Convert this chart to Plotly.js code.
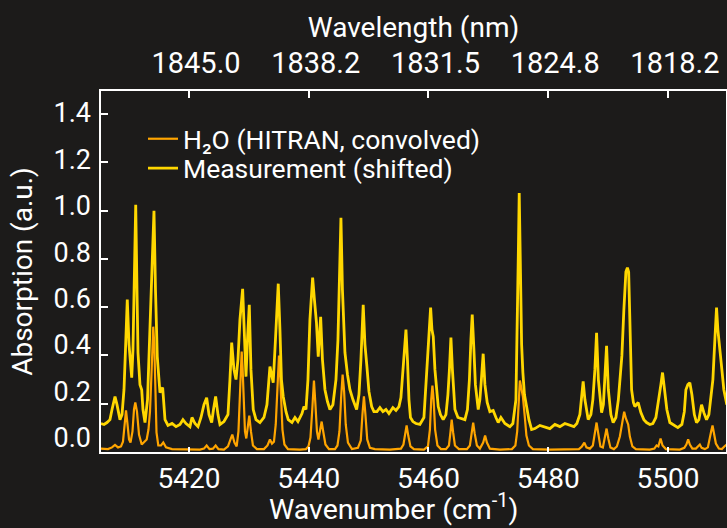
<!DOCTYPE html>
<html>
<head>
<meta charset="utf-8">
<script src="https://cdn.plot.ly/plotly-3.0.1.min.js"></script>
<style>
html,body{margin:0;padding:0;background:#1c1b1a;}
#chart{width:727px;height:528px;}
</style>
</head>
<body>
<div id="chart"></div>
<script>
// Wavenumber (cm-1) and absorption for the HITRAN H2O spectrum (convolved)
const wn_h2o = [5405.30,5406.47,5407.14,5407.64,5408.14,5408.64,5408.97,5409.22,5409.48,5409.73,5409.98,5410.23,5410.56,5410.81,5411.03,5411.31,5411.65,5412.10,5412.48,5412.93,5413.23,5413.48,5413.73,5413.90,5414.03,5414.20,5414.35,5414.57,5414.87,5415.32,5415.70,5416.16,5417.16,5419.33,5421.83,5422.50,5422.95,5423.42,5424.00,5424.45,5424.92,5425.84,5426.51,5426.93,5427.23,5427.59,5427.96,5428.26,5428.51,5428.68,5428.80,5428.95,5429.10,5429.35,5429.57,5429.82,5430.07,5430.35,5430.68,5431.35,5432.52,5433.11,5433.52,5433.86,5434.19,5434.49,5434.74,5434.91,5435.03,5435.16,5435.36,5435.61,5435.94,5436.53,5438.53,5439.54,5439.95,5440.29,5440.59,5440.87,5441.12,5441.37,5441.62,5441.87,5442.16,5442.42,5442.79,5443.38,5444.38,5444.80,5445.13,5445.41,5445.66,5445.91,5446.18,5446.55,5447.22,5448.22,5448.69,5448.97,5449.22,5449.47,5449.77,5450.22,5451.06,5453.56,5455.40,5455.82,5456.10,5456.35,5456.62,5456.99,5457.57,5459.24,5459.91,5460.24,5460.46,5460.66,5460.86,5461.11,5461.50,5462.08,5462.92,5463.42,5463.67,5463.88,5464.12,5464.42,5465.09,5466.42,5466.92,5467.22,5467.47,5467.72,5468.09,5468.59,5469.14,5469.46,5469.76,5470.26,5471.93,5473.94,5474.52,5474.82,5475.06,5475.27,5475.49,5475.77,5476.06,5476.36,5476.78,5477.44,5480.28,5483.62,5485.13,5485.63,5486.04,5486.38,5486.96,5487.46,5487.83,5488.08,5488.33,5488.72,5489.13,5489.47,5489.75,5490.04,5490.39,5490.97,5491.47,5491.97,5492.39,5492.69,5492.98,5493.36,5493.64,5494.06,5494.65,5496.98,5497.74,5498.10,5498.40,5498.77,5499.10,5499.66,5501.99,5502.74,5503.08,5503.38,5503.66,5504.08,5504.67,5505.08,5505.33,5505.63,5506.17,5506.67,5507.00,5507.25,5507.45,5507.67,5508.01,5508.51,5509.01,5509.42,5509.84];
const abs_h2o = [0.014,0.012,0.019,0.029,0.019,0.023,0.043,0.114,0.172,0.114,0.052,0.039,0.085,0.176,0.205,0.167,0.072,0.031,0.039,0.052,0.093,0.167,0.321,0.465,0.519,0.445,0.238,0.081,0.027,0.027,0.039,0.019,0.012,0.010,0.010,0.014,0.027,0.012,0.014,0.027,0.012,0.010,0.023,0.052,0.072,0.039,0.023,0.085,0.238,0.374,0.416,0.349,0.217,0.085,0.056,0.101,0.151,0.085,0.027,0.012,0.012,0.027,0.052,0.035,0.043,0.114,0.258,0.374,0.399,0.358,0.217,0.093,0.031,0.012,0.010,0.012,0.023,0.060,0.176,0.296,0.196,0.085,0.052,0.085,0.126,0.085,0.031,0.012,0.012,0.027,0.085,0.225,0.321,0.250,0.114,0.039,0.012,0.017,0.048,0.155,0.230,0.155,0.052,0.017,0.012,0.010,0.014,0.031,0.077,0.110,0.068,0.023,0.012,0.010,0.023,0.093,0.217,0.275,0.217,0.093,0.027,0.012,0.012,0.027,0.081,0.134,0.081,0.027,0.012,0.012,0.027,0.077,0.122,0.077,0.027,0.014,0.039,0.068,0.039,0.014,0.010,0.012,0.027,0.085,0.209,0.296,0.267,0.230,0.155,0.068,0.027,0.012,0.010,0.010,0.012,0.023,0.039,0.019,0.014,0.027,0.081,0.122,0.081,0.023,0.019,0.056,0.097,0.056,0.019,0.012,0.023,0.064,0.134,0.167,0.139,0.114,0.064,0.023,0.012,0.010,0.014,0.027,0.023,0.056,0.027,0.012,0.010,0.017,0.031,0.052,0.031,0.014,0.014,0.023,0.031,0.017,0.012,0.019,0.052,0.089,0.110,0.081,0.035,0.014,0.012,0.023,0.031];

// Wavenumber (cm-1) and absorption for the measured spectrum (shifted)
const wn_meas = [5405.30,5405.80,5406.30,5406.80,5407.14,5407.64,5407.97,5408.47,5408.81,5409.14,5409.39,5409.69,5409.98,5410.43,5410.64,5410.89,5411.10,5411.31,5411.48,5411.81,5412.10,5412.31,5412.65,5413.07,5413.37,5413.65,5413.90,5414.15,5414.40,5414.70,5415.15,5415.60,5415.99,5416.49,5417.16,5417.83,5418.49,5418.99,5419.50,5420.16,5420.50,5421.00,5421.50,5422.00,5422.50,5422.95,5423.34,5423.79,5424.09,5424.45,5424.84,5425.17,5425.84,5426.51,5426.84,5427.13,5427.51,5427.85,5428.18,5428.51,5428.96,5429.26,5429.52,5429.77,5430.07,5430.35,5430.73,5431.19,5431.85,5432.52,5433.02,5433.52,5434.07,5434.44,5434.69,5434.91,5435.19,5435.44,5435.74,5436.20,5436.58,5437.20,5437.70,5438.20,5438.87,5439.20,5439.54,5439.87,5440.20,5440.65,5440.95,5441.29,5441.59,5441.99,5442.29,5442.71,5443.13,5443.54,5444.04,5444.55,5444.88,5445.13,5445.38,5445.63,5446.05,5446.47,5446.88,5447.38,5448.00,5448.39,5448.72,5449.10,5449.39,5449.72,5450.06,5450.51,5450.89,5451.39,5451.89,5452.39,5452.90,5453.40,5454.06,5454.57,5455.07,5455.40,5455.73,5456.07,5456.24,5456.49,5456.74,5456.99,5457.40,5457.91,5458.57,5459.24,5459.69,5459.99,5460.36,5460.58,5460.80,5461.08,5461.63,5462.00,5462.46,5462.92,5463.25,5463.50,5463.75,5464.00,5464.42,5464.92,5465.42,5466.09,5466.51,5466.84,5467.09,5467.31,5467.59,5467.84,5468.31,5468.59,5468.84,5469.14,5469.43,5469.81,5470.26,5470.81,5471.27,5471.65,5472.10,5472.77,5473.60,5474.10,5474.61,5474.86,5475.02,5475.16,5475.36,5475.56,5475.77,5476.03,5476.39,5476.78,5477.23,5477.78,5478.61,5479.45,5480.28,5481.12,5481.95,5482.79,5483.62,5484.29,5484.79,5485.29,5485.54,5485.84,5486.13,5486.68,5487.13,5487.46,5487.80,5488.08,5488.38,5488.92,5489.22,5489.47,5489.75,5490.05,5490.47,5490.85,5491.31,5491.72,5491.97,5492.31,5492.64,5492.98,5493.23,5493.44,5493.64,5493.93,5494.23,5494.48,5495.03,5495.48,5495.98,5496.43,5496.98,5497.48,5497.99,5498.49,5498.82,5499.10,5499.40,5499.82,5500.32,5500.99,5501.66,5502.33,5502.74,5503.00,5503.33,5503.66,5504.00,5504.41,5504.78,5505.17,5505.62,5506.00,5506.45,5506.84,5507.17,5507.51,5507.84,5508.12,5508.34,5508.67,5509.01,5509.34,5509.84];
const abs_meas = [0.118,0.114,0.122,0.134,0.176,0.230,0.196,0.134,0.155,0.258,0.424,0.631,0.445,0.308,0.424,0.755,1.024,0.672,0.411,0.279,0.258,0.176,0.122,0.217,0.424,0.631,0.837,0.999,0.672,0.395,0.246,0.267,0.134,0.110,0.118,0.105,0.114,0.134,0.118,0.105,0.143,0.118,0.105,0.143,0.196,0.225,0.155,0.122,0.176,0.230,0.155,0.114,0.126,0.155,0.300,0.453,0.341,0.300,0.383,0.548,0.676,0.465,0.312,0.465,0.610,0.341,0.176,0.134,0.122,0.143,0.196,0.354,0.287,0.465,0.631,0.697,0.507,0.300,0.230,0.167,0.134,0.122,0.143,0.126,0.159,0.188,0.176,0.300,0.548,0.722,0.631,0.536,0.395,0.560,0.383,0.258,0.209,0.176,0.196,0.300,0.465,0.713,0.970,0.672,0.411,0.321,0.258,0.217,0.176,0.238,0.383,0.610,0.445,0.354,0.250,0.188,0.167,0.167,0.184,0.167,0.176,0.159,0.184,0.172,0.188,0.225,0.341,0.465,0.507,0.383,0.217,0.143,0.126,0.118,0.114,0.143,0.329,0.465,0.598,0.507,0.478,0.341,0.188,0.155,0.134,0.155,0.238,0.341,0.474,0.341,0.176,0.143,0.139,0.134,0.176,0.300,0.465,0.569,0.424,0.279,0.176,0.217,0.300,0.407,0.279,0.205,0.167,0.172,0.143,0.122,0.143,0.118,0.105,0.118,0.217,0.507,0.837,1.073,0.796,0.445,0.329,0.238,0.188,0.134,0.093,0.097,0.110,0.105,0.097,0.114,0.105,0.118,0.110,0.105,0.118,0.155,0.217,0.292,0.217,0.134,0.155,0.217,0.341,0.494,0.300,0.163,0.196,0.300,0.440,0.258,0.155,0.122,0.143,0.217,0.300,0.399,0.589,0.746,0.763,0.746,0.548,0.258,0.205,0.188,0.205,0.163,0.134,0.122,0.114,0.118,0.143,0.217,0.279,0.329,0.258,0.176,0.122,0.110,0.101,0.114,0.167,0.258,0.279,0.287,0.238,0.155,0.122,0.134,0.196,0.163,0.134,0.155,0.217,0.300,0.465,0.598,0.507,0.411,0.341,0.258,0.196];

// Axis ticks
const wn_ticks = [5420, 5440, 5460, 5480, 5500];
const wl_ticktext = ['1845.0', '1838.2', '1831.5', '1824.8', '1818.2'];
const abs_ticks = [0.0, 0.2, 0.4, 0.6, 0.8, 1.0, 1.2, 1.4];
const abs_ticktext = ['0.0', '0.2', '0.4', '0.6', '0.8', '1.0', '1.2', '1.4'];

const FONT = 'Roboto, "Noto Sans", sans-serif';
const WHITE = '#ffffff';
const BG = '#1c1b1a';
const f = s => ({family: FONT, size: s, color: WHITE});

const traces = [
  {x: wn_h2o, y: abs_h2o, type: 'scatter', mode: 'lines', name: 'H\u2082O (HITRAN, convolved)',
   line: {color: '#ffa500', width: 2.2}, xaxis: 'x', yaxis: 'y', legend: 'legend'},
  {x: wn_meas, y: abs_meas, type: 'scatter', mode: 'lines', name: 'Measurement (shifted)',
   line: {color: '#ffd700', width: 2.8}, xaxis: 'x2', yaxis: 'y', legend: 'legend2'},
  {x: [], y: [], type: 'scatter', mode: 'lines', showlegend: false, hoverinfo: 'skip', xaxis: 'x', yaxis: 'y2'}
];

const xr = [5405.3, 5509.7];
const layout = {
  width: 727, height: 528,
  paper_bgcolor: BG, plot_bgcolor: BG,
  margin: {l: 101, r: 1, t: 91, b: 76},
  font: f(26.5),
  showlegend: true,
  legend: {x: 0.0672, y: 0.9335, xanchor: 'left', yanchor: 'top', bgcolor: 'rgba(0,0,0,0)', font: f(26.5)},
  legend2: {x: 0.0672, y: 0.852, xanchor: 'left', yanchor: 'top', bgcolor: 'rgba(0,0,0,0)', font: f(26.5)},
  xaxis: {range: xr, tickvals: wn_ticks, ticks: 'inside', ticklen: 5, tickwidth: 2, tickcolor: WHITE,
          showline: true, linecolor: WHITE, linewidth: 2, mirror: true, showgrid: false, zeroline: false,
          tickfont: f(28), ticklabelstandoff: 0},
  xaxis2: {range: xr, overlaying: 'x', side: 'top', tickvals: wn_ticks, ticktext: wl_ticktext,
           ticks: 'inside', ticklen: 7, tickwidth: 2, tickcolor: WHITE, showline: false, showgrid: false, zeroline: false,
           tickfont: f(29), ticklabelstandoff: 11, ticklabelshift: 7,
           title: {text: 'Wavelength (nm)', font: f(28), standoff: 0}},
  yaxis: {range: [0, 1.495], tickvals: abs_ticks, showticklabels: false, ticks: 'inside', ticklen: 7, tickwidth: 2,
          tickcolor: WHITE, showline: true, linecolor: WHITE, linewidth: 2, mirror: true, showgrid: false, zeroline: false},
  yaxis2: {range: [-0.0625, 1.495], overlaying: 'y', side: 'left', tickvals: abs_ticks, ticktext: abs_ticktext,
           ticks: '', showline: false, showgrid: false, zeroline: false, tickfont: f(27), ticklabelstandoff: 9,
           title: {text: 'Absorption (a.u.)', font: f(28), standoff: 12}},
  annotations: [
    {text: 'Wavenumber (cm<sup>-1</sup>)', xref: 'paper', yref: 'paper', x: 0.468, y: -0.2064,
     xanchor: 'center', yanchor: 'bottom', showarrow: false, borderpad: 0, font: f(28.5)}
  ]
};

Plotly.newPlot('chart', traces, layout, {displayModeBar: false, staticPlot: true});
</script>
</body>
</html>
